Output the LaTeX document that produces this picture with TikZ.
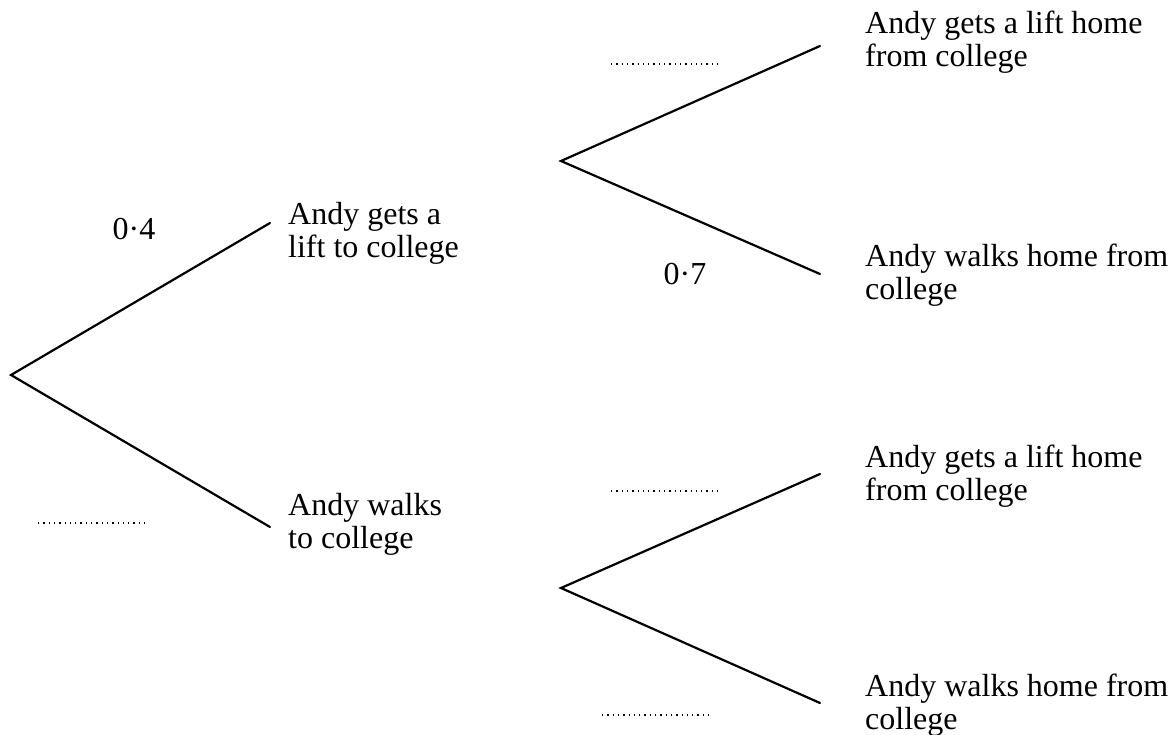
\documentclass[tikz,border=0pt]{standalone}
\usepackage{fontspec}
\setmainfont{Liberation Serif}
\begin{document}
\begin{tikzpicture}[x=1pt,y=-1pt,
  branch/.style={line width=2.2pt, line cap=round, line join=miter},
  blank/.style={line width=1.5pt, dash pattern=on 1.3pt off 4pt},
  lbl/.style={anchor=base west, inner sep=0pt, align=left, font=\fontsize{32}{33}\selectfont},
  prob/.style={anchor=base, inner sep=0pt, font=\fontsize{32}{33}\selectfont}]
\useasboundingbox (0,0) rectangle (1176,735);
% branch points
\coordinate (r) at (11,375);
\coordinate (a) at (270,223);
\coordinate (b) at (270,527);
\coordinate (ra) at (561,161);
\coordinate (aa) at (820,46);
\coordinate (ab) at (820,274);
\coordinate (rb) at (561,588);
\coordinate (ba) at (820,474);
\coordinate (bb) at (820,703);
% branches
\draw[branch] (a) -- (r) -- (b);
\draw[branch] (aa) -- (ra) -- (ab);
\draw[branch] (ba) -- (rb) -- (bb);
% outcome labels (anchor = baseline of last line)
\node[lbl] (ta) at (288,258) {Andy gets a\\lift to college};
\node[lbl] (tb) at (288,548) {Andy walks\\to college};
\node[lbl] (taa) at (865,67) {Andy gets a lift home\\from college};
\node[lbl] (tab) at (865,300) {Andy walks home from\\college};
\node[lbl] (tba) at (865,500) {Andy gets a lift home\\from college};
\node[lbl] (tbb) at (865,729) {Andy walks home from\\college};
% probabilities
\node[prob] (p1) at (134,240) {0·4};
\node[prob] (p2) at (685,285) {0·7};
% blanks
\coordinate (d1s) at (38,523);  \coordinate (d1e) at (148,523);
\coordinate (d2s) at (611,64);  \coordinate (d2e) at (722,64);
\coordinate (d3s) at (611,491); \coordinate (d3e) at (722,491);
\coordinate (d4s) at (602,715); \coordinate (d4e) at (713,715);
\draw[blank] (d1s) -- (d1e);
\draw[blank] (d2s) -- (d2e);
\draw[blank] (d3s) -- (d3e);
\draw[blank] (d4s) -- (d4e);
\end{tikzpicture}
\end{document}
